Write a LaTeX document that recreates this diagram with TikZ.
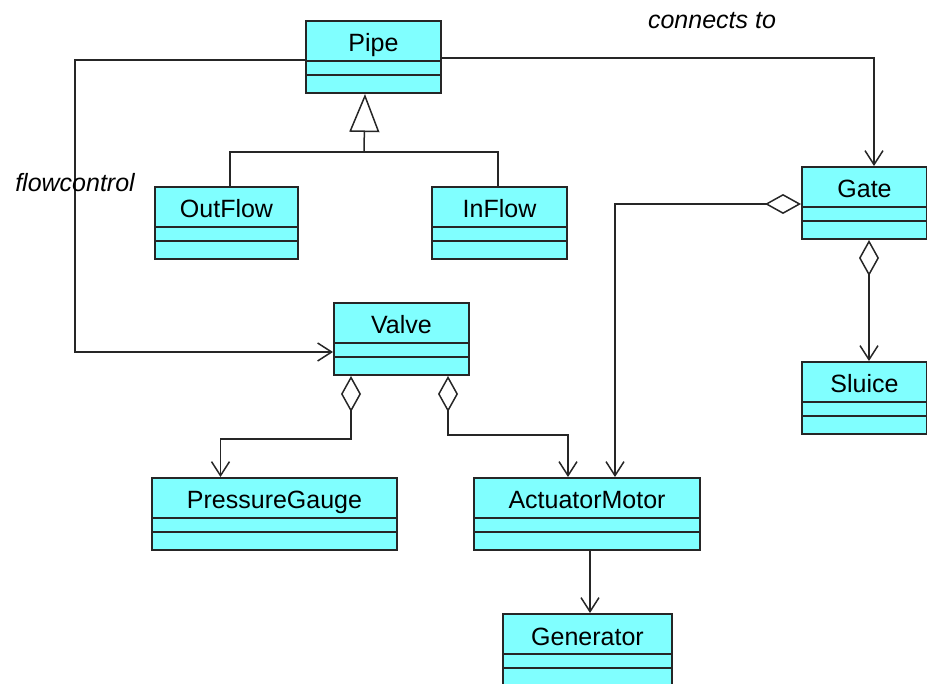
\documentclass[tikz,border=0pt]{standalone}
\usepackage{fontspec}
\setmainfont{Liberation Sans}
\usetikzlibrary{arrows.meta, positioning}
\definecolor{classcyan}{HTML}{80FFFF}
\tikzstyle{umlclass} = [rectangle, draw=black!85, line width=2pt,
    fill=classcyan, anchor=north west, inner sep=0pt,
    minimum height=72pt, text height=31pt, text depth=41pt,
    font=\fontsize{25}{29}\selectfont,
    path picture={
      \draw[line width=2pt, black!85]
        ([yshift=-40pt]path picture bounding box.north west) --
        ([yshift=-40pt]path picture bounding box.north east)
        ([yshift=-54pt]path picture bounding box.north west) --
        ([yshift=-54pt]path picture bounding box.north east);
    }]
\tikzstyle{assoc} = [-{Straight Barb[length=14pt,width=18pt]},
    line width=1.5pt, black!85]
\tikzstyle{aggr} = [{Diamond[open,length=36pt,width=20pt]}-{Straight Barb[length=14pt,width=18pt]},
    line width=1.5pt, black!85]
\tikzstyle{gen} = [-{Triangle[open,length=38pt,width=30pt]},
    line width=1.5pt, black!85]
\tikzstyle{role} = [font=\itshape\fontsize{25}{29}\selectfont]

\begin{document}
\begin{tikzpicture}[x=1pt, y=-1pt]
    \useasboundingbox (0,0) rectangle (927,684);

    % Classes
    \node[umlclass, minimum width=135pt] (pipe) at (305,20) {Pipe};
    \node[umlclass, minimum width=143pt] (outflow) at (154,186) {OutFlow};
    \node[umlclass, minimum width=135pt] (inflow) at (431,186) {InFlow};
    \node[umlclass, minimum width=125pt] (gate) at (801,166) {Gate};
    \node[umlclass, minimum width=125pt] (sluice) at (801,361) {Sluice};
    \node[umlclass, minimum width=135pt] (valve) at (333,302) {Valve};
    \node[umlclass, minimum width=245pt] (gauge) at (151,477) {PressureGauge};
    \node[umlclass, minimum width=226pt] (motor) at (473,477) {ActuatorMotor};
    \node[umlclass, minimum width=169pt] (generator) at (502,613) {Generator};

    % Inheritance
    \coordinate (genbar) at (364,152);
    \draw[line width=1.5pt, black!85] ([xshift=3.5pt]outflow.north) |- (genbar) -| ([xshift=-1.5pt]inflow.north);
    \draw[gen] (genbar) -- ([xshift=-8.5pt]pipe.south);

    % Associations
    \draw[assoc] ([yshift=-1pt]pipe.east) -| ([xshift=9.5pt]gate.north);
    \draw[assoc] ([yshift=-3pt]pipe.west) -- ++(-230,0) |- ([yshift=-13pt]valve.west);
    \draw[assoc] ([xshift=3pt]motor.south) -- ([xshift=2.5pt]generator.north);

    % Aggregations
    \draw[aggr] ([xshift=4.5pt]gate.south) -- ([xshift=4.5pt]sluice.north);
    \draw[aggr] ([yshift=-1pt]gate.west) -| ([xshift=28pt]motor.north);
    \draw[aggr] ([xshift=18pt]valve.south west) -- ++(0,63) -| ([xshift=-54pt]gauge.north);
    \draw[aggr] ([xshift=-22pt]valve.south east) -- ++(0,59) -| ([xshift=-19pt]motor.north);

    % Role names
    \node[role] (connlabel) at (712,21) {connects to};
    \node[role] (flowlabel) at (75,183) {flowcontrol};
\end{tikzpicture}
\end{document}
